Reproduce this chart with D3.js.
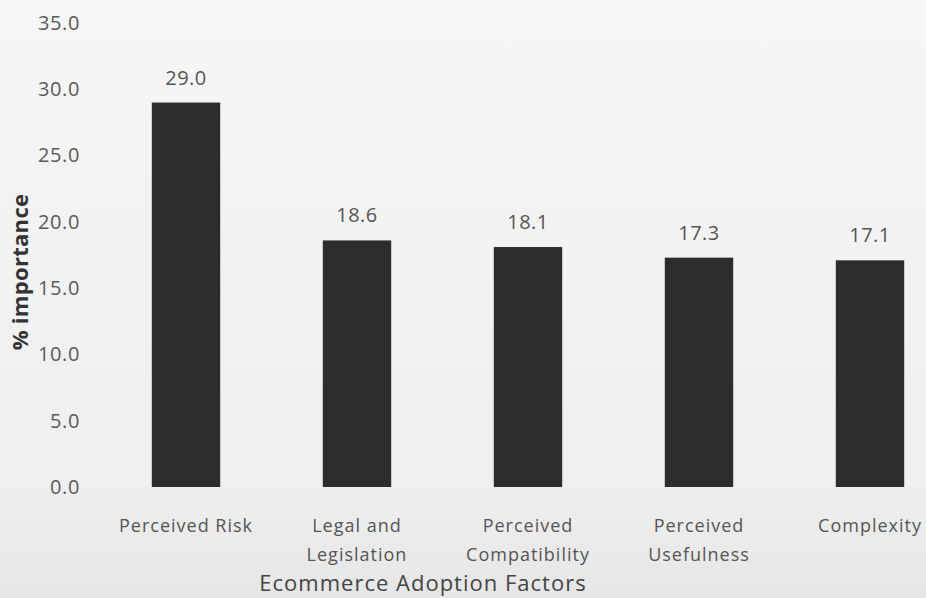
<!DOCTYPE html>
<html>
<head>
<meta charset="utf-8">
<script src="https://cdn.jsdelivr.net/npm/d3@7"></script>
<style>
  html, body { margin: 0; padding: 0; background: #f1f1f1; }
  svg { display: block; }
  text { font-family: "Open Sans", Lato, sans-serif; }
</style>
</head>
<body>
<svg id="chart" width="926" height="598"></svg>
<script>
// Ecommerce adoption factors and their relative importance (%)
const categories = [
  ["Perceived Risk"],
  ["Legal and", "Legislation"],
  ["Perceived", "Compatibility"],
  ["Perceived", "Usefulness"],
  ["Complexity"]
];
const importance = [29.0, 18.6, 18.1, 17.3, 17.1];
const yTicks = [0, 5, 10, 15, 20, 25, 30, 35];
const yTitle = "% importance";
const xTitle = "Ecommerce Adoption Factors";

const svg = d3.select("#chart");
const W = 926, H = 598;

// paper-like background, slightly darker along the bottom
const bg = svg.append("defs").append("linearGradient")
  .attr("id", "paper").attr("x1", 0).attr("y1", 0).attr("x2", 0).attr("y2", 1);
bg.append("stop").attr("offset", "0%").attr("stop-color", "#f6f6f6");
bg.append("stop").attr("offset", "80%").attr("stop-color", "#efefef");
bg.append("stop").attr("offset", "100%").attr("stop-color", "#e6e6e6");
svg.append("rect").attr("width", W).attr("height", H).attr("fill", "url(#paper)");

const keys = categories.map(c => c.join(" "));
const x = d3.scaleBand()
  .domain(keys)
  .range([100.5, 955.5])
  .paddingInner(0.6)
  .paddingOuter(0.3);

const y = d3.scaleLinear().domain([0, 35]).range([487, 23]);

// y axis: labels only, no line or tick marks
const yAxis = svg.append("g")
  .attr("transform", "translate(80,0)")
  .call(d3.axisLeft(y).tickValues(yTicks).tickSize(0).tickPadding(0)
    .tickFormat(d3.format(".1f")));
yAxis.select(".domain").remove();
yAxis.selectAll("text")
  .attr("fill", "#5a5a5a")
  .style("font-size", "20px")
  .style("letter-spacing", "0.6px")
  .style("font-family", "'Open Sans', Lato, sans-serif");

// bars
svg.append("g").selectAll("rect")
  .data(importance)
  .join("rect")
  .attr("x", (d, i) => x(keys[i]))
  .attr("width", x.bandwidth())
  .attr("y", d => y(d))
  .attr("height", d => y(0) - y(d))
  .attr("fill", "#2c2c2c");

// value labels above the bars
svg.append("g").selectAll("text")
  .data(importance)
  .join("text")
  .attr("x", (d, i) => x(keys[i]) + x.bandwidth() / 2)
  .attr("y", d => y(d) - 18)
  .attr("text-anchor", "middle")
  .attr("fill", "#555")
  .style("font-size", "20px")
  .style("letter-spacing", "0.5px")
  .text(d => d.toFixed(1));

// category labels (one or two lines)
const catG = svg.append("g").selectAll("text")
  .data(categories)
  .join("text")
  .attr("text-anchor", "middle")
  .attr("fill", "#555")
  .style("font-size", "18px")
  .style("letter-spacing", "1px");
catG.selectAll("tspan")
  .data((c, i) => c.map(line => ({ line, i })))
  .join("tspan")
  .attr("x", d => x(keys[d.i]) + x.bandwidth() / 2)
  .attr("y", (d, j) => 532 + j * 29)
  .text(d => d.line);

// axis titles
svg.append("text")
  .attr("transform", "translate(28,272) rotate(-90)")
  .attr("text-anchor", "middle")
  .attr("fill", "#333")
  .style("font-size", "22px")
  .style("font-weight", "bold")
  .style("letter-spacing", "0.3px")
  .text(yTitle);

svg.append("text")
  .attr("x", 423)
  .attr("y", 591)
  .attr("text-anchor", "middle")
  .attr("fill", "#444")
  .style("font-size", "22px")
  .style("letter-spacing", "1px")
  .text(xTitle);
</script>
</body>
</html>
